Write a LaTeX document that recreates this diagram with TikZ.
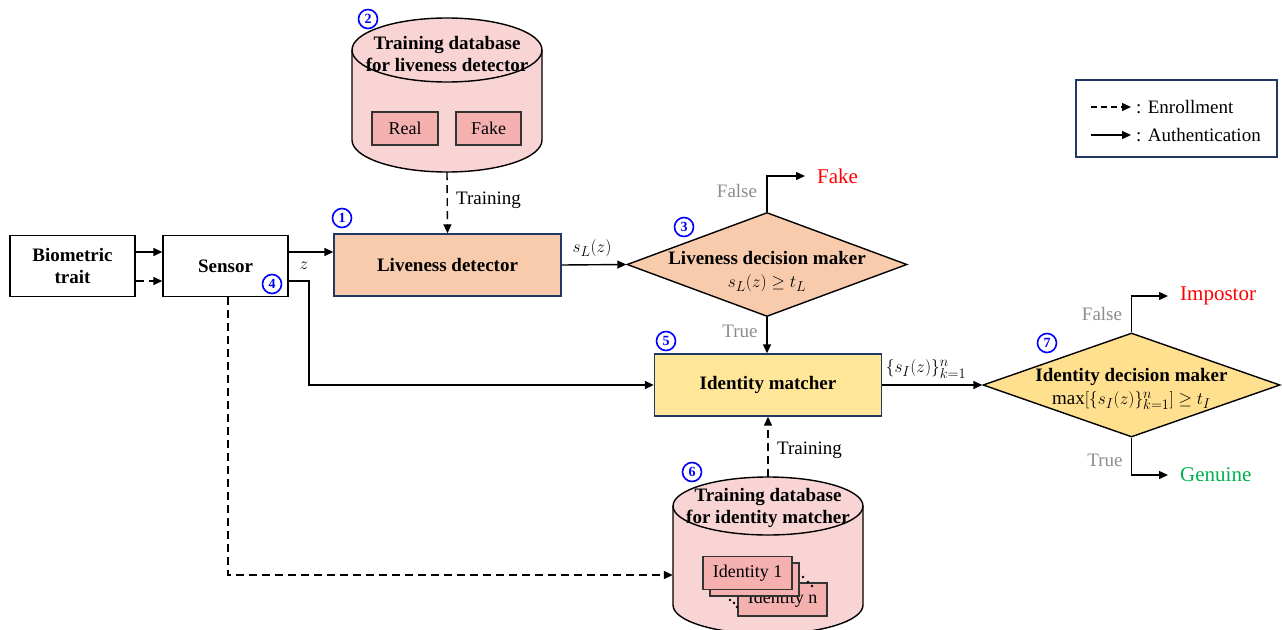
\documentclass[tikz,border=0pt]{standalone}
\usepackage{fontspec}
\setmainfont{Liberation Serif}
\usetikzlibrary{arrows.meta,shapes.geometric}
\definecolor{peach}{HTML}{F8CBAD}
\definecolor{navy}{HTML}{203864}
\definecolor{yelbox}{HTML}{FFE699}
\definecolor{yeldia}{HTML}{FFE08F}
\definecolor{dbpink}{HTML}{F9D4D5}
\definecolor{inpink}{HTML}{F5B0B0}
\definecolor{lblgray}{HTML}{8C8C8C}
\definecolor{okgreen}{HTML}{00B050}
\definecolor{numblue}{HTML}{0000FF}
\begin{document}
\begin{tikzpicture}[x=1pt,y=-1pt,
  plainbox/.style={draw=black, line width=1.4pt, fill=white, minimum width=125pt, minimum height=61pt, inner sep=0pt, align=center, font=\bfseries\fontsize{19}{22}\selectfont},
  procbox/.style={draw=navy, line width=1.4pt, minimum width=227pt, minimum height=62pt, inner sep=0pt, align=center, font=\bfseries\fontsize{19}{22}\selectfont},
  decdia/.style={diamond, draw=black, line width=1.4pt, inner sep=0pt, minimum height=104pt},
  diatext/.style={align=center, inner sep=0pt, font=\fontsize{19}{23}\selectfont},
  arr/.style={line width=1.4pt, -{Triangle[length=9pt,width=8pt]}},
  dasharr/.style={arr, dash pattern=on 8pt off 5pt},
  numcirc/.style={circle, draw=numblue, line width=1.6pt, text=numblue, inner sep=0pt, minimum size=19pt, font=\bfseries\fontsize{14}{14}\selectfont},
  lbl/.style={inner sep=1pt, font=\fontsize{19}{22}\selectfont},
  graylbl/.style={lbl, text=lblgray},
  outcome/.style={anchor=west, inner xsep=12pt, inner ysep=0pt, font=\fontsize{21}{24}\selectfont},
  dbshape/.style={draw=black, line width=1.4pt, fill=dbpink},
  inbox/.style={draw=black!80, line width=1.2pt, fill=inpink, inner sep=0pt, font=\fontsize{18}{20}\selectfont},
  placeholder/.style={inner sep=0pt}
]
\useasboundingbox (0,0) rectangle (1282,629);

% ---------- database 1 (liveness) ----------
\draw[dbshape] (352,50) -- (352,140) arc[start angle=180,end angle=360,x radius=95pt,y radius=32pt] -- (542,50) arc[start angle=0,end angle=180,x radius=95pt,y radius=32pt] -- cycle;
\draw[line width=1.4pt] (352,50) arc[start angle=180,end angle=360,x radius=95pt,y radius=32pt];
\node[placeholder, minimum width=190pt, minimum height=154pt] (db1) at (447,95) {};
\node[align=center, inner sep=0pt, font=\bfseries\fontsize{19}{22}\selectfont] (db1txt) at (447,54) {Training database\\for liveness detector};
\node[inbox, minimum width=66pt, minimum height=33pt] (real) at (405,128.5) {Real};
\node[inbox, minimum width=65pt, minimum height=33pt] (fakebox) at (488.5,128.5) {Fake};
\node[numcirc] (n2) at (368,19) {2};

% ---------- database 2 (identity) ----------
\draw[dbshape] (673,506) -- (673,605) arc[start angle=180,end angle=360,x radius=95pt,y radius=29pt] -- (863,506) arc[start angle=0,end angle=180,x radius=95pt,y radius=29pt] -- cycle;
\draw[line width=1.4pt] (673,506) arc[start angle=180,end angle=360,x radius=95pt,y radius=29pt];
\node[placeholder, minimum width=190pt, minimum height=157pt] (db2) at (768,555.5) {};
\node[align=center, inner sep=0pt, font=\bfseries\fontsize{19}{22}\selectfont] (db2txt) at (768,508) {Training database\\for identity matcher};
\node[inbox, minimum width=89pt, minimum height=33pt] (idn) at (782.5,599.5) {Identity n};
\node[inbox, minimum width=89pt, minimum height=33pt] (idmid) at (754.5,579.5) {};
\node[inbox, minimum width=89pt, minimum height=33pt] (id1) at (747.5,573) {Identity 1};
\foreach \px/\py in {803/577, 808/582, 812/586, 730/600, 734/603, 737/607}
  \fill (\px,\py) circle[radius=1.3pt];
\node[numcirc] (n6) at (692,472) {6};

% ---------- main nodes ----------
\node[plainbox] (bio) at (72.5,266) {Biometric\\trait};
\node[plainbox] (sensor) at (225.5,266) {Sensor};
\node[numcirc] (n4) at (272,284) {4};
\node[procbox, fill=peach] (live) at (447.5,265) {Liveness detector};
\node[numcirc] (n1) at (342,218) {1};
\node[decdia, fill=peach, minimum width=280pt] (dec1) at (767,264.5) {};
\node[diatext] (dec1txt) at (767,272) {\textbf{Liveness decision maker}\\$s_L(z) \geq t_L$};
\node[numcirc] (n3) at (684,227) {3};
\node[procbox, fill=yelbox] (idm) at (768,385) {Identity matcher};
\node[numcirc] (n5) at (666,341) {5};
\node[decdia, fill=yeldia, minimum width=297pt] (dec2) at (1131.5,385) {};
\node[diatext] (dec2txt) at (1131.5,389) {\textbf{Identity decision maker}\\$\max[\{s_I(z)\}_{k=1}^{n}] \geq t_I$};
\node[numcirc] (n7) at (1047,343) {7};

% outcomes
\node[outcome, text=red] (fake) at (805,176) {Fake};
\node[outcome, text=red] (impostor) at (1168,296) {Impostor};
\node[outcome, text=okgreen] (genuine) at (1168,475) {Genuine};

% ---------- connectors ----------
\draw[arr] (bio.east |- 0,252) -- (sensor.west |- 0,252);
\draw[dasharr] (bio.east |- 0,281) -- (sensor.west |- 0,281);
\draw[arr] (sensor.east |- 0,252) -- (live.west |- 0,252);
\node[lbl] (zlbl) at (304,266) {$z$};
\draw[arr] (sensor.east |- 0,281) -- (309,281) |- (idm.west);
\draw[dasharr] (db1.south) -- (live.north);
\node[lbl, anchor=west] (tr1) at (455,200) {Training};
\draw[arr] (live.east) -- (dec1.west);
\node[lbl] (sl) at (592,248) {$s_L(z)$};
\draw[arr] (dec1.north) |- (fake.west);
\node[graylbl] (f1) at (737,191) {False};
\draw[arr] (dec1.south) -- (dec1.south |- idm.north);
\node[graylbl] (t1) at (740,331) {True};
\draw[arr] (idm.east) -- (dec2.west);
\node[lbl] (si) at (926,369) {$\{s_I(z)\}_{k=1}^{n}$};
\draw[arr] (dec2.north) |- (impostor.west);
\node[graylbl] (f2) at (1102,314) {False};
\draw[arr] (dec2.south) |- (genuine.west);
\node[graylbl] (t2) at (1105,460) {True};
\draw[dasharr] (db2.north) -- (db2.north |- idm.south);
\node[lbl, anchor=west] (tr2) at (776,450) {Training};
\draw[dasharr] (sensor.south -| 228,0) |- (db2.west |- 0,575);

% ---------- legend ----------
\node[draw=navy, line width=1.2pt, minimum width=201pt, minimum height=77pt, inner sep=0pt] (leg) at (1176.5,118.5) {};
\coordinate (le1) at (1091,107);
\coordinate (le2) at (1131,107);
\coordinate (la1) at (1091,135);
\coordinate (la2) at (1131,135);
\draw[dasharr, dash pattern=on 6pt off 4pt] (le1) -- (le2);
\draw[arr] (la1) -- (la2);
\node[lbl, anchor=west] (enr) at (1135,107) {: Enrollment};
\node[lbl, anchor=west] (auth) at (1135,135) {: Authentication};
\end{tikzpicture}
\end{document}
